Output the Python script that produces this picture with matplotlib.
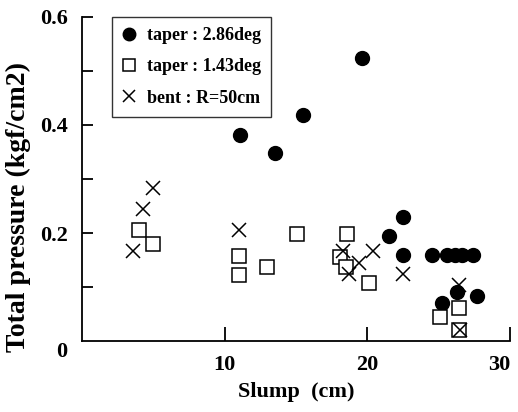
import matplotlib
matplotlib.use("Agg")
import matplotlib.pyplot as plt

# Data
taper286_x = [11.1, 13.5, 15.5, 19.6, 21.5, 22.5, 22.5, 24.5, 25.6, 26.1, 26.6, 27.4, 25.2, 26.3, 27.7]
taper286_y = [0.382, 0.349, 0.419, 0.524, 0.195, 0.229, 0.159, 0.159, 0.159, 0.159, 0.159, 0.159, 0.071, 0.091, 0.084]

taper143_x = [4.0, 5.0, 11.0, 11.0, 13.0, 15.1, 18.6, 18.1, 18.5, 20.1, 25.1, 26.4, 26.4]
taper143_y = [0.206, 0.180, 0.158, 0.122, 0.138, 0.198, 0.198, 0.155, 0.138, 0.108, 0.045, 0.061, 0.020]

bent_x = [3.6, 4.3, 5.0, 11.0, 18.3, 18.7, 19.4, 20.4, 22.5, 26.4, 26.5]
bent_y = [0.166, 0.244, 0.284, 0.206, 0.167, 0.124, 0.145, 0.167, 0.124, 0.104, 0.020]

labels = ["taper : 2.86deg", "taper : 1.43deg", "bent : R=50cm"]
xticks = [10, 20, 30]
yticks = [0.2, 0.4, 0.6]
yminor = [0.1, 0.3, 0.5]

plt.rcParams['font.family'] = ['Liberation Serif', 'DejaVu Serif']
plt.rcParams['font.weight'] = 'bold'

fig = plt.figure(figsize=(5.18, 4.12), dpi=100)
ax = fig.add_axes([0.158, 0.172, 0.827, 0.787])

ax.plot(taper286_x, taper286_y, linestyle='none', marker='o', ms=10, color='black', label=labels[0])
ax.plot(taper143_x, taper143_y, linestyle='none', marker='s', ms=10, mfc='white', mec='black', mew=1.1, label=labels[1])
ax.plot(bent_x, bent_y, linestyle='none', marker='x', ms=10, color='black', mew=1.1, label=labels[2])

ax.set_xlim(0, 30)
ax.set_ylim(0, 0.6)
ax.spines['top'].set_visible(False)
ax.spines['right'].set_visible(False)
for s in ('left', 'bottom'):
    ax.spines[s].set_linewidth(1.3)

ax.set_xticks(xticks)
ax.set_xticklabels([str(t) for t in xticks])
ax.set_yticks(yticks)
ax.set_yticklabels(["%.1f" % t for t in yticks])
ax.set_yticks(yminor, minor=True)
ax.tick_params(axis='both', which='both', direction='in', width=1.3, labelsize=16)
ax.tick_params(axis='x', length=10, pad=10)
ax.tick_params(axis='y', which='both', length=8, pad=10)
ax.get_xticklabels()[-1].set_horizontalalignment('right')

ax.annotate('0', xy=(0, 0), xycoords='data', xytext=(-14.5, -7.5), textcoords='offset points',
            ha='center', va='center', fontsize=16, fontweight='bold')

ax.set_xlabel('Slump  (cm)', fontsize=16, fontweight='bold')
ax.set_ylabel('Total pressure (kgf/cm2)', fontsize=20, fontweight='bold')
ax.xaxis.set_label_coords(0.5, -0.125)
ax.yaxis.set_label_coords(-0.118, 0.414)

leg = ax.legend(loc='upper left', bbox_to_anchor=(0.07, 1.0), borderaxespad=0,
                fontsize=13, frameon=True, fancybox=False, handlelength=0.8,
                handletextpad=0.6, labelspacing=0.8, borderpad=0.55, markerscale=0.9)
leg.get_frame().set_edgecolor('black')
leg.get_frame().set_linewidth(1.0)
for t in leg.get_texts():
    t.set_fontweight('bold')

fig.savefig('out.png', dpi=100)
